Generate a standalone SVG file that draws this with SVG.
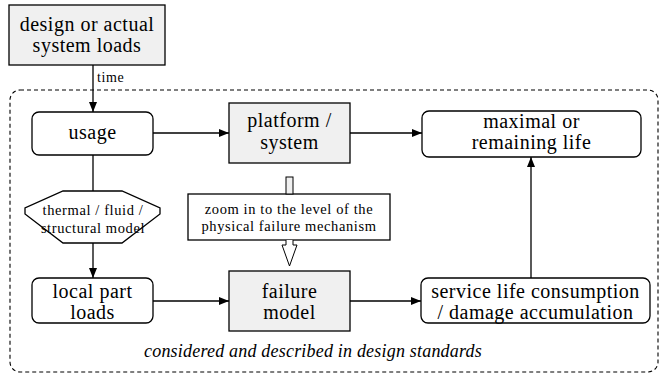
<svg xmlns="http://www.w3.org/2000/svg" width="660" height="375" viewBox="0 0 660 375">
  <defs>
    <marker id="arrow" viewBox="0 0 10 8" refX="10" refY="4" markerWidth="10" markerHeight="8" markerUnits="userSpaceOnUse" orient="auto">
      <path d="M0,0 L10,4 L0,8 Z" fill="#000"/>
    </marker>
  </defs>
  <rect width="660" height="375" fill="#ffffff"/>

  <!-- scope boundary -->
  <g id="scope">
    <rect x="10" y="90" width="648" height="282" rx="10" ry="10" fill="none" stroke="#000" stroke-width="1.1" stroke-dasharray="4,3"/>
    <text x="313" y="357" text-anchor="middle" font-family="Liberation Serif" font-size="18" font-style="italic" letter-spacing="0.2">considered and described in design standards</text>
  </g>

  <g id="system-loads">
    <rect x="9" y="5" width="156" height="60" fill="#f0f0f0" stroke="#000" stroke-width="1.3"/>
    <text x="87" y="31" text-anchor="middle" font-family="Liberation Serif" font-size="20" letter-spacing="0.5">design or actual</text>
    <text x="87" y="52" text-anchor="middle" font-family="Liberation Serif" font-size="20" letter-spacing="0.5">system loads</text>
  </g>

  <g id="usage">
    <rect x="32" y="112" width="121" height="43" rx="7" ry="7" fill="#ffffff" stroke="#000" stroke-width="1.3"/>
    <text x="92.5" y="139" text-anchor="middle" font-family="Liberation Serif" font-size="20" letter-spacing="0.5">usage</text>
  </g>

  <g id="platform">
    <rect x="229" y="103" width="121" height="60" fill="#f0f0f0" stroke="#000" stroke-width="1.3"/>
    <text x="289.5" y="127" text-anchor="middle" font-family="Liberation Serif" font-size="20" letter-spacing="0.5">platform /</text>
    <text x="289.5" y="149" text-anchor="middle" font-family="Liberation Serif" font-size="20" letter-spacing="0.5">system</text>
  </g>

  <g id="remaining-life">
    <rect x="422" y="111" width="219" height="46" rx="7" ry="7" fill="#ffffff" stroke="#000" stroke-width="1.3"/>
    <text x="531.5" y="128" text-anchor="middle" font-family="Liberation Serif" font-size="20" letter-spacing="0.5">maximal or</text>
    <text x="531.5" y="149" text-anchor="middle" font-family="Liberation Serif" font-size="20" letter-spacing="0.5">remaining life</text>
  </g>

  <g id="thermal-model">
    <polygon points="63,191 122,191 160,208 160,214 122,243 63,243 25,214 25,208" fill="#ffffff" stroke="#000" stroke-width="1.3"/>
    <text x="93" y="215" text-anchor="middle" font-family="Liberation Serif" font-size="14.5" letter-spacing="0.6">thermal / fluid /</text>
    <text x="93" y="233" text-anchor="middle" font-family="Liberation Serif" font-size="14.5" letter-spacing="0.6">structural model</text>
  </g>

  <g id="zoom-in">
    <rect x="188" y="194" width="202" height="46" fill="#ffffff" stroke="#000" stroke-width="1.3"/>
    <text x="289" y="214" text-anchor="middle" font-family="Liberation Serif" font-size="14.5" letter-spacing="0.6">zoom in to the level of the</text>
    <text x="289" y="231" text-anchor="middle" font-family="Liberation Serif" font-size="14.5" letter-spacing="0.6">physical failure mechanism</text>
  </g>

  <g id="local-loads">
    <rect x="32" y="278" width="121" height="45" rx="7" ry="7" fill="#ffffff" stroke="#000" stroke-width="1.3"/>
    <text x="92.5" y="298" text-anchor="middle" font-family="Liberation Serif" font-size="20" letter-spacing="0.5">local part</text>
    <text x="92.5" y="319" text-anchor="middle" font-family="Liberation Serif" font-size="20" letter-spacing="0.5">loads</text>
  </g>

  <g id="failure-model">
    <rect x="229" y="271" width="121" height="60" fill="#f0f0f0" stroke="#000" stroke-width="1.3"/>
    <text x="289.5" y="298" text-anchor="middle" font-family="Liberation Serif" font-size="20" letter-spacing="0.5">failure</text>
    <text x="289.5" y="319" text-anchor="middle" font-family="Liberation Serif" font-size="20" letter-spacing="0.5">model</text>
  </g>

  <g id="life-consumption">
    <rect x="421" y="278" width="229" height="45" rx="7" ry="7" fill="#ffffff" stroke="#000" stroke-width="1.3"/>
    <text x="535.5" y="298" text-anchor="middle" font-family="Liberation Serif" font-size="20" letter-spacing="0.5">service life consumption</text>
    <text x="535.5" y="319" text-anchor="middle" font-family="Liberation Serif" font-size="20" letter-spacing="0.5">/ damage accumulation</text>
  </g>

  <g id="connectors" fill="none" stroke="#000" stroke-width="1.3">
    <line x1="93" y1="65" x2="93" y2="112" marker-end="url(#arrow)"/>
    <text x="97" y="82" fill="#000" stroke="none" font-family="Liberation Serif" font-size="14" letter-spacing="0.6">time</text>
    <line x1="153" y1="133" x2="229" y2="133" marker-end="url(#arrow)"/>
    <line x1="350" y1="133" x2="422" y2="133" marker-end="url(#arrow)"/>
    <line x1="93" y1="155" x2="93" y2="191"/>
    <line x1="93" y1="243" x2="93" y2="278" marker-end="url(#arrow)"/>
    <line x1="153" y1="301" x2="229" y2="301" marker-end="url(#arrow)"/>
    <line x1="350" y1="301" x2="421" y2="301" marker-end="url(#arrow)"/>
    <line x1="531" y1="278" x2="531" y2="157" marker-end="url(#arrow)"/>
    <!-- hollow block arrow through the zoom-in note -->
    <rect x="286" y="177" width="7" height="17" fill="#f0f0f0" stroke-width="1"/>
    <path d="M286,240 L286,245 L282,245 L289.5,266 L297,245 L293,245 L293,240" fill="#ffffff" stroke-width="1"/>
  </g>
</svg>
